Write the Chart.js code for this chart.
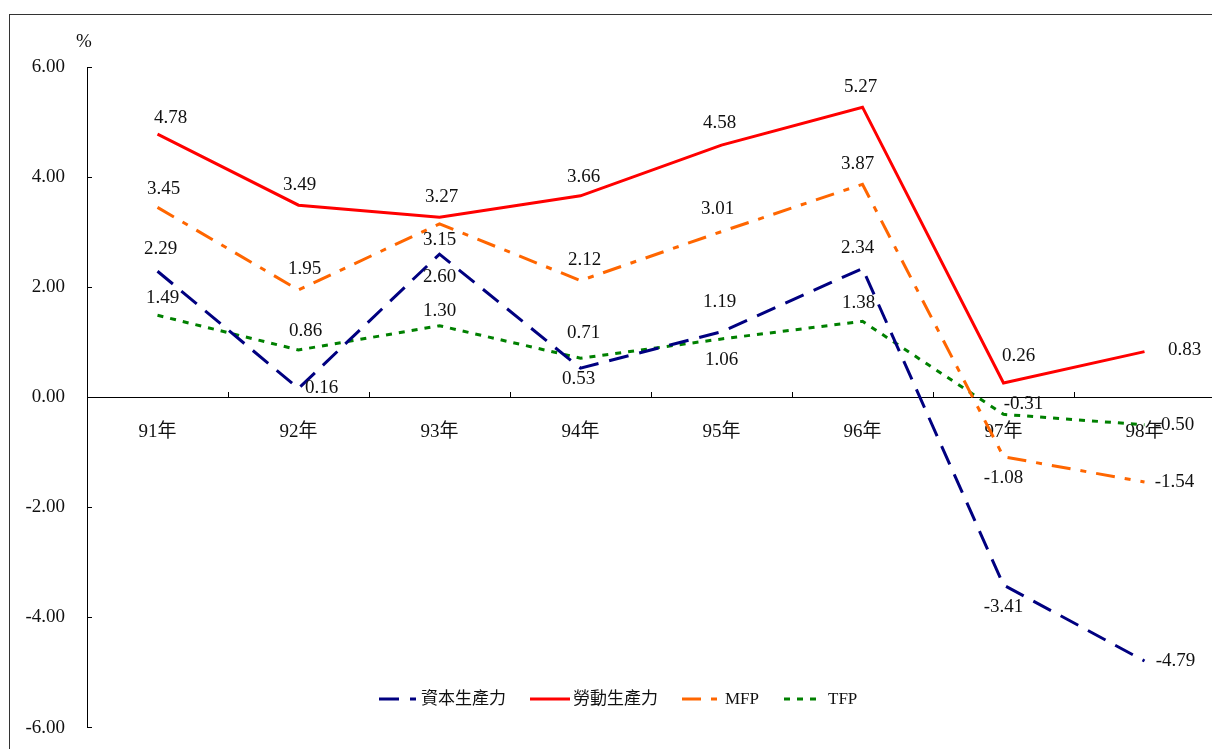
<!DOCTYPE html>
<html><head><meta charset="utf-8">
<script src="https://cdn.jsdelivr.net/npm/chart.js@4/dist/chart.umd.min.js"></script>
<style>
html,body{margin:0;padding:0;overflow:hidden;background:#fff;width:1212px;height:749px}
#frame{position:absolute;left:9px;top:14px;width:1300px;height:800px;border:1.5px solid #333;box-sizing:border-box}
#wrap{position:absolute;left:0;top:0;width:1240px;height:766px}
</style></head><body>
<div id="frame"></div>
<div id="wrap"><canvas id="c" width="1240" height="766"></canvas></div>
<script>
// ---- data ----
const categories = ['91年','92年','93年','94年','95年','96年','97年','98年'];
const seriesNames = ['資本生產力','勞動生產力','MFP','TFP'];
const capitalProd = [2.29, 0.16, 2.60, 0.53, 1.19, 2.34, -3.41, -4.79];
const laborProd   = [4.78, 3.49, 3.27, 3.66, 4.58, 5.27, 0.26, 0.83];
const mfp         = [3.45, 1.95, 3.15, 2.12, 3.01, 3.87, -1.08, -1.54];
const tfp         = [1.49, 0.86, 1.30, 0.71, 1.06, 1.38, -0.31, -0.50];
const yMin = -6, yMax = 6, yStep = 2;

// ---- label placement (pixel offsets from each point) ----
const capitalLabelOffsets = [[3,-22],[23,0],[0,23],[-2,11],[-2,-30],[-5,-20],[0,22],[31,0]];
const laborLabelOffsets   = [[13,-16],[1,-20],[2,-20],[3,-19],[-2,-22],[-2,-20],[15,-27],[40,-2]];
const mfpLabelOffsets     = [[6,-18],[6,-21],[0,16],[4,-21],[-4,-23],[-5,-20],[0,21],[30,0]];
const tfpLabelOffsets     = [[5,-17],[7,-19],[0,-15],[3,-25],[0,21],[-4,-18],[20,-10],[30,0]];
const labelOffsets = [capitalLabelOffsets, laborLabelOffsets, mfpLabelOffsets, tfpLabelOffsets];

// ---- legend layout ----
const legendY = 699;
const legendSampleX = [379, 530, 682, 784];
const legendSampleW = [37, 40, 35, 35];
const legendTextX = [421, 573, 725, 828];

const FONT = '"Liberation Serif", "Times New Roman", "Noto Sans CJK TC", serif';

const labelPlugin = {
  id: 'labels',
  afterDatasetsDraw(chart) {
    const ctx = chart.ctx;
    ctx.save();
    ctx.font = '19px ' + FONT;
    ctx.fillStyle = '#111';
    ctx.textAlign = 'center';
    ctx.textBaseline = 'middle';
    chart.data.datasets.forEach((ds, i) => {
      const meta = chart.getDatasetMeta(i);
      meta.data.forEach((pt, j) => {
        const off = labelOffsets[i][j];
        ctx.fillText(ds.data[j].toFixed(2), pt.x + off[0], pt.y + off[1]);
      });
    });
    ctx.restore();
  },
  afterDraw(chart) {
    const ctx = chart.ctx;
    ctx.save();
    // % unit
    ctx.font = '19px ' + FONT;
    ctx.fillStyle = '#111';
    ctx.textAlign = 'center';
    ctx.textBaseline = 'middle';
    ctx.fillText('%', 84, 42);
    // legend
    chart.data.datasets.forEach((ds, i) => {
      ctx.save();
      ctx.strokeStyle = ds.borderColor;
      ctx.lineWidth = ds.borderWidth;
      ctx.setLineDash(ds.borderDash || []);
      ctx.beginPath();
      ctx.moveTo(legendSampleX[i], legendY);
      ctx.lineTo(legendSampleX[i] + legendSampleW[i], legendY);
      ctx.stroke();
      ctx.restore();
      ctx.font = '17px ' + FONT;
      ctx.fillStyle = '#111';
      ctx.textAlign = 'left';
      ctx.textBaseline = 'middle';
      ctx.fillText(ds.label, legendTextX[i], legendY + 1);
    });
    ctx.restore();
  }
};

const seriesData = [capitalProd, laborProd, mfp, tfp];
const colors = ['#000080', '#FF0000', '#FF6600', '#008000'];
const dashes = [[20, 11], [], [19, 10, 6, 10], [6, 7]];

new Chart(document.getElementById('c'), {
  type: 'line',
  data: {
    labels: categories,
    datasets: seriesData.map((d, i) => ({
      label: seriesNames[i],
      data: d,
      borderColor: colors[i],
      backgroundColor: colors[i],
      borderWidth: 3,
      borderDash: dashes[i],
      borderCapStyle: 'butt',
      pointRadius: 0,
      tension: 0,
      fill: false
    }))
  },
  options: {
    responsive: false,
    animation: false,
    devicePixelRatio: 1,
    layout: { padding: { top: 67, bottom: 5, right: 25, left: 0 } },
    plugins: { legend: { display: false }, tooltip: { enabled: false } },
    scales: {
      x: {
        position: { y: 0 },
        offset: true,
        grid: { drawOnChartArea: false, drawTicks: true, tickLength: -6, offset: true, color: '#000', lineWidth: 1 },
        border: { display: true, color: '#000', width: 1 },
        ticks: { color: '#111', font: { family: FONT, size: 19 }, padding: 29, maxRotation: 0, autoSkip: false }
      },
      y: {
        min: yMin, max: yMax,
        afterFit(s) { s.width = 87; },
        grid: { drawOnChartArea: false, drawTicks: true, tickLength: -5, color: '#000', lineWidth: 1 },
        border: { display: true, color: '#000', width: 1 },
        ticks: { stepSize: yStep, color: '#111', font: { family: FONT, size: 19 }, padding: 27,
                 callback: v => Number(v).toFixed(2) }
      }
    }
  },
  plugins: [labelPlugin]
});
</script>
</body></html>
